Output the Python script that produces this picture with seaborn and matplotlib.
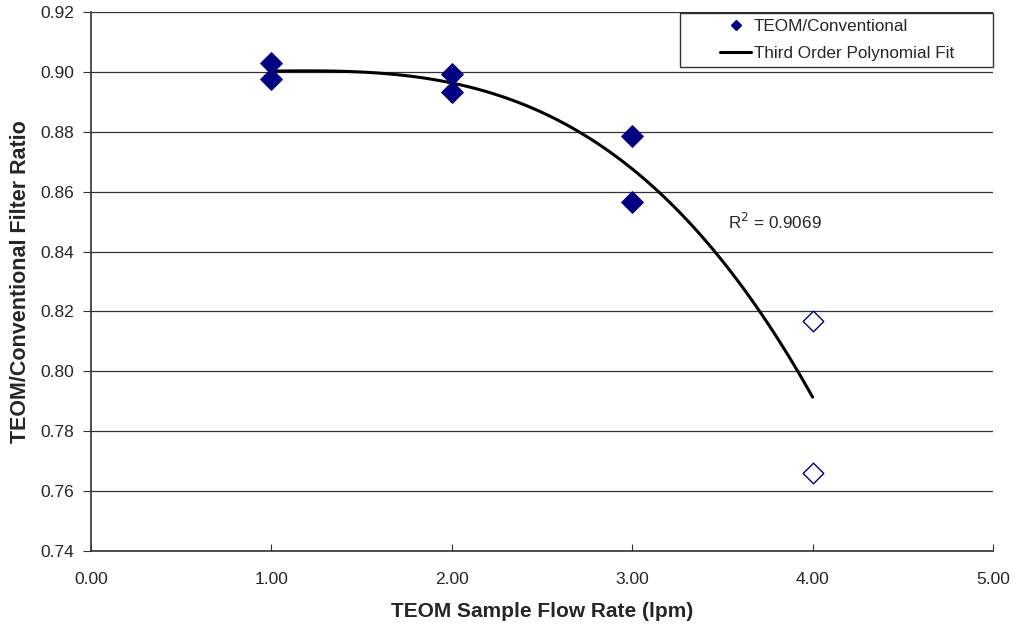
import numpy as np
import pandas as pd
import matplotlib
matplotlib.use("Agg")
import matplotlib.pyplot as plt
import seaborn as sns
from matplotlib.lines import Line2D
from matplotlib.legend_handler import HandlerLine2D

sns.set_style("white")
plt.rcParams['font.family'] = ['Liberation Sans', 'DejaVu Sans']

# Data
flow_filled = [1, 1, 2, 2, 3, 3]
ratio_filled = [0.903, 0.8975, 0.8994, 0.8932, 0.8786, 0.8566]
flow_open = [4, 4]
ratio_open = [0.8168, 0.7660]
x_ticks = [0, 1, 2, 3, 4, 5]
y_ticks = [0.74, 0.76, 0.78, 0.80, 0.82, 0.84, 0.86, 0.88, 0.90, 0.92]
r2_label = "R$^2$ = 0.9069"
legend_labels = ["TEOM/Conventional", "Third Order Polynomial Fit"]

df_all = pd.DataFrame({"flow": flow_filled + flow_open,
                       "ratio": ratio_filled + ratio_open})
df_f = pd.DataFrame({"flow": flow_filled, "ratio": ratio_filled})
df_o = pd.DataFrame({"flow": flow_open, "ratio": ratio_open})

fig = plt.figure(figsize=(10.16, 6.26), dpi=100)
ax = fig.add_axes([91/1016, 1-551/626, (993-91)/1016, (551-12)/626])

for yv in y_ticks:
    ax.axhline(yv, color="#333333", lw=0.9, zorder=0)

sns.regplot(data=df_all, x="flow", y="ratio", order=3, ci=None, scatter=False,
            line_kws=dict(color="black", lw=2.2), ax=ax)
sns.scatterplot(data=df_f, x="flow", y="ratio", marker="D", s=120,
                color="#000080", edgecolor="#000080", ax=ax, zorder=3)
sns.scatterplot(data=df_o, x="flow", y="ratio", marker="D", s=110,
                facecolor="white", edgecolor="#000080", linewidth=1.0, ax=ax, zorder=3)

ax.text(3.53, 0.8499, r2_label, fontsize=12.3, ha="left", va="center")

ax.set_xlim(0, 5)
ax.set_ylim(0.74, 0.92)
ax.set_xticks(x_ticks)
ax.set_xticklabels([f"{v:.2f}" for v in x_ticks])
ax.set_yticks(y_ticks)
ax.set_yticklabels([f"{v:.2f}" for v in y_ticks])
ax.tick_params(axis="x", direction="in", length=5, labelsize=12.5, pad=15, color="#333333", bottom=True)
ax.tick_params(axis="y", direction="out", length=6, labelsize=12.5, pad=6, color="#333333", left=True)
for s in ["top", "right"]:
    ax.spines[s].set_visible(False)
for s in ["left", "bottom"]:
    ax.spines[s].set_color("#333333")
    ax.spines[s].set_linewidth(1.2)

ax.set_xlabel("TEOM Sample Flow Rate (lpm)", fontsize=15, fontweight="bold", labelpad=11)
ax.set_ylabel("TEOM/Conventional Filter Ratio", fontsize=15.5, fontweight="bold", labelpad=7)

h_marker = Line2D([], [], marker="D", color="#000080", ls="none", markersize=5.5)
h_line = Line2D([], [], color="black", lw=2.2)
labels = [legend_labels[0], legend_labels[1] + "       "]
leg = ax.legend([h_marker, h_line], labels,
                loc="upper right", bbox_to_anchor=(1.0, 0.999), fontsize=12.3,
                frameon=True, fancybox=False, borderaxespad=0, handlelength=3.8,
                handletextpad=0.15, borderpad=0.35, labelspacing=0.75,
                handler_map={h_marker: HandlerLine2D(xpad=2.0),
                             h_line: HandlerLine2D(xpad=2.0)})
leg.get_frame().set_edgecolor("black")
leg.get_frame().set_linewidth(1.0)

fig.savefig("out.png", dpi=100)
